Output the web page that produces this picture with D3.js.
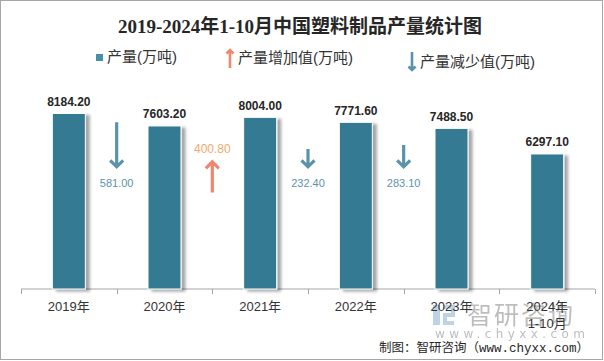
<!DOCTYPE html>
<html>
<head>
<meta charset="utf-8">
<script src="https://cdn.jsdelivr.net/npm/d3@7"></script>
<style>
  html, body { margin: 0; padding: 0; background: #fff; }
  svg { display: block; }
</style>
</head>
<body>
<svg id="chart" width="604" height="361"></svg>
<script>
// data
const categories = ["2019年", "2020年", "2021年", "2022年", "2023年", "2024年\n1-10月"]
const output = [8184.2, 7603.2, 8004.0, 7771.6, 7488.5, 6297.1]
const changeValues = [581.0, 400.8, 232.4, 283.1]
const changeDirs = ["down", "up", "down", "down"]
const legendLabels = ["产量(万吨)", "产量增加值(万吨)", "产量减少值(万吨)"]

const svg = d3.select("#chart")
const W = 604, H = 361
const margin = { top: 96, right: 9, bottom: 72, left: 21 }

const barColor = "#357a93"
const downColor = "#5b93ab"
const upColor = "#f0866e"
const upLabelColor = "#f4a96b"
const cjk = "'Liberation Sans', 'Noto Sans CJK SC', sans-serif"

// frame
svg.append("rect")
    .attr("x", 0.5).attr("y", 0.5)
    .attr("width", W - 2).attr("height", H - 2)
    .attr("fill", "#fff")
    .attr("stroke", "#a6a6a6")

const defs = svg.append("defs")
const shadow = defs.append("filter").attr("id", "shadow")
    .attr("x", "-20%").attr("y", "-10%").attr("width", "160%").attr("height", "130%")
shadow.append("feDropShadow")
    .attr("dx", 4).attr("dy", 2).attr("stdDeviation", 1.6)
    .attr("flood-color", "#000").attr("flood-opacity", 0.35)

// title
svg.append("text")
    .attr("x", 300).attr("y", 33)
    .attr("text-anchor", "middle")
    .style("font-family", "'Liberation Serif', 'Noto Sans CJK SC', serif")
    .style("font-weight", "bold")
    .style("font-size", "19px")
    .attr("fill", "#262626")
    .text("2019-2024年1-10月中国塑料制品产量统计图")

const x = d3.scaleBand()
    .domain(categories)
    .range([margin.left, W - margin.right])

const y = d3.scaleLinear()
    .domain([0, 9000])
    .range([H - margin.bottom, margin.top])

const barW = 33
const arrowLen = d3.scaleLinear().domain([0, 600]).range([0, 46])

// x axis
const axis = svg.append("g")
    .attr("transform", "translate(0," + y(0) + ")")
axis.append("line")
    .attr("x1", x.range()[0]).attr("x2", x.range()[1])
    .attr("stroke", "#a6a6a6")
const tickXs = categories.map(d => x(d)).concat([x.range()[1]])
axis.selectAll(".tick")
    .data(tickXs)
    .enter().append("line")
    .attr("x1", d => Math.round(d) + 0.5).attr("x2", d => Math.round(d) + 0.5)
    .attr("y1", 0).attr("y2", 5)
    .attr("stroke", "#a6a6a6")

// watermark (drawn under the labels)
const wm = svg.append("g").attr("opacity", 0.75)
wm.append("rect").attr("x", 433).attr("y", 305).attr("width", 7).attr("height", 20).attr("fill", "#a9c6dc")
wm.append("path")
    .attr("d", "M443,307 H453 V315 H445 V323 H454")
    .attr("fill", "none").attr("stroke", "#a9c6dc").attr("stroke-width", 4)
wm.append("text")
    .attr("x", 467).attr("y", 324)
    .style("font-family", "'Noto Sans CJK SC', sans-serif")
    .style("font-size", "25px")
    .style("letter-spacing", "2px")
    .attr("fill", "#a8a8a8")
    .text("智研咨询")
wm.append("text")
    .attr("x", 435).attr("y", 338)
    .style("font-family", "'DejaVu Sans', sans-serif")
    .style("font-size", "12px")
    .style("letter-spacing", "4.4px")
    .attr("fill", "#a8a8a8")
    .text("www.chyxx.com")

axis.selectAll(".xLabel")
    .data(categories)
    .enter().append("text")
    .attr("class", "xLabel")
    .attr("text-anchor", "middle")
    .style("font-family", cjk)
    .style("font-size", "13px")
    .attr("fill", "#333")
    .each(function (d) {
        const t = d3.select(this)
        d.split("\n").forEach((line, i) => {
            t.append("tspan")
                .attr("x", x(d) + x.bandwidth() / 2)
                .attr("y", 22 + i * 17)
                .text(line)
        })
    })
axis.raise()

// bars
svg.append("g").selectAll("rect")
    .data(output)
    .enter().append("rect")
    .attr("x", (d, i) => x(categories[i]) + x.bandwidth() / 2 - barW / 2)
    .attr("y", d => y(d))
    .attr("width", barW)
    .attr("height", d => y(0) - y(d))
    .attr("fill", barColor)
    .attr("stroke", "#fff")
    .attr("stroke-width", 1)
    .attr("filter", "url(#shadow)")

svg.append("g").selectAll("text")
    .data(output)
    .enter().append("text")
    .attr("x", (d, i) => x(categories[i]) + x.bandwidth() / 2)
    .attr("y", d => y(d) - 7.5)
    .attr("text-anchor", "middle")
    .style("font-family", "'Liberation Sans', sans-serif")
    .style("font-weight", "bold")
    .style("font-size", "12px")
    .attr("fill", "#262626")
    .text(d => d3.format(".2f")(d))

// change arrows, placed on the boundary between two years
function arrowPath(cx, y1, y2, head) {
    const dir = y2 > y1 ? 1 : -1
    return "M" + cx + "," + y1 + "L" + cx + "," + y2 +
        "M" + (cx - head) + "," + (y2 - dir * head) + "L" + cx + "," + y2 +
        "L" + (cx + head) + "," + (y2 - dir * head)
}

const changes = svg.append("g")
changeValues.forEach((v, i) => {
    const cx = x(categories[i + 1])
    const len = arrowLen(v)
    if (changeDirs[i] === "down") {
        const end = y(5700)
        changes.append("path")
            .attr("d", arrowPath(cx, end - len, end, 6.5))
            .attr("fill", "none")
            .attr("stroke", downColor)
            .attr("stroke-width", 3.2)
        changes.append("text")
            .attr("x", cx).attr("y", end + 20)
            .attr("text-anchor", "middle")
            .style("font-family", "'Liberation Sans', sans-serif")
            .style("font-size", "11px")
            .attr("fill", downColor)
            .text(d3.format(".2f")(v))
    } else {
        const base = y(4500)
        changes.append("path")
            .attr("d", arrowPath(cx, base, base - len, 6.5))
            .attr("fill", "none")
            .attr("stroke", upColor)
            .attr("stroke-width", 3.2)
        changes.append("text")
            .attr("x", cx).attr("y", base - len - 9)
            .attr("text-anchor", "middle")
            .style("font-family", "'Liberation Sans', sans-serif")
            .style("font-size", "12px")
            .attr("fill", upLabelColor)
            .text(d3.format(".2f")(v))
    }
})

// legend
const legend = svg.append("g")
const legendX = [99, 230, 412]
const legendY = [57, 58, 62]
legend.append("rect")
    .attr("x", legendX[0] - 3).attr("y", legendY[0] - 3)
    .attr("width", 7).attr("height", 7)
    .attr("fill", "#4a8fa8")
legend.append("path")
    .attr("d", arrowPath(legendX[1], legendY[1] + 10, legendY[1] - 8, 3.5))
    .attr("fill", "none").attr("stroke", upColor).attr("stroke-width", 2.6)
legend.append("path")
    .attr("d", arrowPath(legendX[2], legendY[2] - 10, legendY[2] + 8, 3.5))
    .attr("fill", "none").attr("stroke", downColor).attr("stroke-width", 2.6)
legend.selectAll("text")
    .data(legendLabels)
    .enter().append("text")
    .attr("x", (d, i) => legendX[i] + 8)
    .attr("y", (d, i) => legendY[i] + 5)
    .style("font-family", cjk)
    .style("font-size", "15px")
    .attr("fill", "#333")
    .text(d => d)

// source
svg.append("text")
    .attr("x", 589).attr("y", 352)
    .attr("text-anchor", "end")
    .style("font-family", "'Liberation Mono', 'Noto Sans CJK SC', monospace")
    .style("font-size", "12.5px")
    .attr("fill", "#262626")
    .text("制图：智研咨询（www.chyxx.com）")
</script>
</body>
</html>
